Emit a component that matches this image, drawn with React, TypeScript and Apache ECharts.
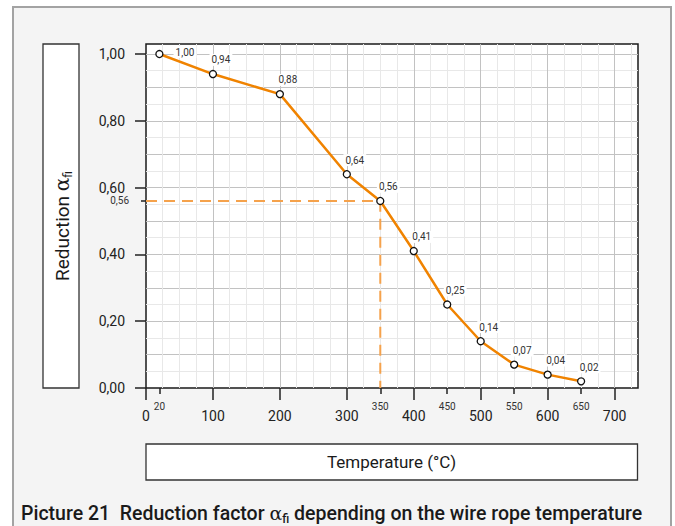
import React, { useEffect, useRef } from "react";
import * as echarts from "echarts";

// ---- data ----
const temperatures = [20, 100, 200, 300, 350, 400, 450, 500, 550, 600, 650];
const reductionFactors = [1.0, 0.94, 0.88, 0.64, 0.56, 0.41, 0.25, 0.14, 0.07, 0.04, 0.02];
const majorXTicks = [0, 100, 200, 300, 400, 500, 600, 700];
const minorXTicks = [20, 350, 450, 550, 650];
const majorYTicks = [0, 0.2, 0.4, 0.6, 0.8, 1.0];
const markedTemperature = 350;
const markedFactor = 0.56;
const xMax = 735;
const yMax = 1.03;

const FONT = "Roboto, 'Noto Sans', sans-serif";
const comma = (v: number) => v.toFixed(2).replace(".", ",");

export default function App() {
  const ref = useRef<HTMLDivElement>(null);
  useEffect(() => {
    if (!ref.current) return;
    const chart = echarts.init(ref.current, null, { renderer: "svg" });
    const gridLine = (color: string) => ({
      show: true,
      showMinLine: false,
      showMaxLine: false,
      lineStyle: { color, width: 1 },
    });
    const hidden = { axisLine: { show: false }, axisTick: { show: false }, axisLabel: { show: false } };
    const option: any = {
      animation: false,
      backgroundColor: "#ffffff",
      textStyle: { fontFamily: FONT },
      grid: {
        left: 146,
        top: 44,
        right: 37,
        bottom: 138,
        show: true,
        backgroundColor: "#ffffff",
        borderColor: "#1a1a1a",
        borderWidth: 1.5,
      },
      xAxis: [
        { type: "value", min: 0, max: xMax, interval: 25, ...hidden, splitLine: gridLine("#e8e8e8") },
        { type: "value", min: 0, max: xMax, interval: 100, ...hidden, splitLine: gridLine("#c2c2c2") },
        {
          type: "value", min: 0, max: xMax, position: "bottom", offset: 5,
          axisLine: { show: false },
          splitLine: { show: false },
          axisTick: { show: true, customValues: majorXTicks, length: 12, lineStyle: { color: "#222", width: 1.5 } },
          axisLabel: { show: true, customValues: majorXTicks, fontSize: 14, margin: 16, color: "#222", fontFamily: FONT },
        },
        {
          type: "value", min: 0, max: xMax, position: "bottom", offset: 5,
          axisLine: { show: false },
          splitLine: { show: false },
          axisTick: { show: true, customValues: minorXTicks, length: 6, lineStyle: { color: "#222", width: 1.5 } },
          axisLabel: { show: true, customValues: minorXTicks, fontSize: 10, margin: 8, color: "#333", fontFamily: FONT },
        },
      ],
      yAxis: [
        { type: "value", min: 0, max: yMax, interval: 0.05, ...hidden, splitLine: gridLine("#e8e8e8") },
        { type: "value", min: 0, max: yMax, interval: 0.1, ...hidden, splitLine: gridLine("#c2c2c2") },
        {
          type: "value", min: 0, max: yMax, position: "left", offset: 7,
          axisLine: { show: false },
          splitLine: { show: false },
          axisTick: { show: true, customValues: majorYTicks, length: 11, lineStyle: { color: "#222", width: 1.5 } },
          axisLabel: { show: true, customValues: majorYTicks, formatter: comma, fontSize: 14, margin: 14, color: "#222", fontFamily: FONT },
        },
        {
          type: "value", min: 0, max: yMax, position: "left", offset: 6,
          axisLine: { show: false },
          splitLine: { show: false },
          axisTick: { show: true, customValues: [markedFactor], length: 5, lineStyle: { color: "#222", width: 1.5 } },
          axisLabel: { show: true, customValues: [markedFactor], formatter: comma, fontSize: 10, margin: 11, color: "#333", fontFamily: FONT },
        },
      ],
      graphic: [
        {
          type: "rect", z: -10, silent: true,
          shape: { x: 13, y: 7, width: 658, height: 540 },
          style: { fill: "#f4f4f4", stroke: "#a3a3a3", lineWidth: 2 },
        },
        {
          type: "rect", z: -5, silent: true,
          shape: { x: 43, y: 44, width: 36, height: 344 },
          style: { fill: "#ffffff", stroke: "#333", lineWidth: 1.3 },
        },
        {
          type: "rect", z: -5, silent: true,
          shape: { x: 146, y: 444, width: 491.5, height: 36 },
          style: { fill: "#ffffff", stroke: "#333", lineWidth: 1.3 },
        },
        {
          type: "text", x: 62, y: 226, rotation: Math.PI / 2, z: 5,
          style: {
            text: "{n|Reduction }{a|α}{s|fi}",
            align: "center", verticalAlign: "middle",
            rich: {
              n: { fontFamily: FONT, fontSize: 19, fill: "#1a1a1a", lineHeight: 24 },
              a: { fontFamily: "'DejaVu Serif', serif", fontSize: 20, fill: "#1a1a1a", lineHeight: 24 },
              s: { fontFamily: FONT, fontSize: 12, fill: "#1a1a1a", lineHeight: 13, verticalAlign: "bottom" },
            },
          },
        },
        {
          type: "text", x: 391.5, y: 462, z: 5,
          style: { text: "Temperature (°C)", fontFamily: FONT, fontSize: 17, fill: "#1a1a1a", align: "center", verticalAlign: "middle" },
        },
        {
          type: "text", x: 21, y: 513, z: 5,
          style: {
            text: "{n|Picture 21  Reduction factor }{a|α}{s|fi}{n| depending on the wire rope temperature}",
            align: "left", verticalAlign: "middle",
            rich: {
              n: { fontFamily: FONT, fontSize: 19.5, fontWeight: 500, fill: "#1a1a1a", lineHeight: 24 },
              a: { fontFamily: "'DejaVu Serif', serif", fontSize: 19, fill: "#1a1a1a", lineHeight: 24 },
              s: { fontFamily: FONT, fontSize: 12, fontWeight: 500, fill: "#1a1a1a", lineHeight: 13, verticalAlign: "bottom" },
            },
          },
        },
      ],
      series: [
        {
          type: "line",
          xAxisIndex: 0,
          yAxisIndex: 0,
          data: [[0, markedFactor], [markedTemperature, markedFactor], [markedTemperature, 0]],
          symbol: "none",
          silent: true,
          z: 2,
          lineStyle: { color: "#f5a24c", width: 2, type: [11, 7] },
        },
        {
          type: "line",
          xAxisIndex: 0,
          yAxisIndex: 0,
          z: 3,
          data: temperatures.map((t, i) => {
            const item: any = { value: [t, reductionFactors[i]] };
            if (i === 0) item.label = { position: "right", distance: 10, offset: [0, -2] };
            return item;
          }),
          symbol: "circle",
          symbolSize: 7,
          lineStyle: { color: "#f08300", width: 2.5 },
          itemStyle: { color: "#ffffff", borderColor: "#111", borderWidth: 1.3 },
          label: {
            show: true,
            position: "top",
            distance: 4,
            offset: [8, 0],
            formatter: (p: any) => comma(p.value[1]),
            fontFamily: FONT,
            fontSize: 10,
            color: "#333",
            backgroundColor: "#ffffff",
            padding: [1, 2],
          },
        },
      ],
    };
    chart.setOption(option);
    return () => chart.dispose();
  }, []);
  return <div ref={ref} style={{ position: "fixed", left: 0, top: 0, width: 675, height: 526 }} />;
}
